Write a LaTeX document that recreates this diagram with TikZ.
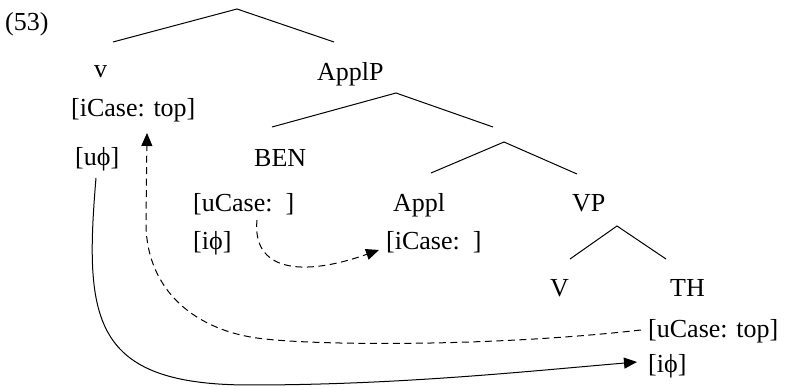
\documentclass[tikz,border=0pt]{standalone}
\usepackage{fontspec}
\setmainfont{Liberation Serif}
\usetikzlibrary{arrows.meta}
\begin{document}
\begin{tikzpicture}[x=1pt,y=-1pt,
  lbl/.style={anchor=base west,inner sep=0pt,font=\fontsize{26}{30}\selectfont},
  branch/.style={line width=1pt},
  agree/.style={line width=1pt,-{Triangle[length=13pt,width=11pt]}},
  agreedash/.style={agree,dash pattern=on 7pt off 4.5pt}]
\useasboundingbox (0,0) rectangle (785,387);
% texts
\node[lbl] (title) at (5,30.5) {(53)};
\node[lbl] (v) at (94,78) {v};
\node[lbl] (applp) at (317,80.5) {ApplP};
\node[lbl] (icasetop) at (71,117) {[iCase: top]};
\node[lbl] (uphi) at (75,165.5) {[uϕ]};
\node[lbl] (ben) at (254,167) {BEN};
\node[lbl] (ucase1) at (193,212) {[uCase:~~]};
\node[lbl] (iphi1) at (193,250) {[iϕ]};
\node[lbl] (appl) at (393,212) {Appl};
\node[lbl] (icase2) at (386,250) {[iCase:~~]};
\node[lbl] (vp) at (572,212) {VP};
\node[lbl] (V) at (550,297) {V};
\node[lbl] (th) at (670,297) {TH};
\node[lbl] (ucasetop) at (648,338) {[uCase: top]};
\node[lbl] (iphi2) at (648,373) {[iϕ]};
% tree skeleton
\coordinate (r) at (237,9);
\coordinate (rL) at (113,42);
\coordinate (rR) at (334,42);
\coordinate (a) at (396,93);
\coordinate (aL) at (272,127);
\coordinate (aR) at (493,127);
\coordinate (b) at (504,142);
\coordinate (bL) at (431,173);
\coordinate (bR) at (577,174);
\coordinate (c) at (617,226);
\coordinate (cL) at (570,259);
\coordinate (cR) at (666,259);
\draw[branch] (rL) -- (r) -- (rR);
\draw[branch] (aL) -- (a) -- (aR);
\draw[branch] (bL) -- (b) -- (bR);
\draw[branch] (cL) -- (c) -- (cR);
% agreement arrows
\coordinate (s1) at (96,178);
\coordinate (e1) at (637,362);
\coordinate (m1) at (250,385);
\draw[agree] (s1) .. controls (84,320) and (92,385) .. (m1)
  .. controls (400,385) and (530,371) .. (e1);
\coordinate (s2) at (641,330);
\coordinate (m2) at (265,339);
\coordinate (k2) at (146,225);
\coordinate (e2) at (147,133);
\draw[agreedash] (s2) .. controls (500,346) and (330,346) .. (m2)
  .. controls (195,332) and (147,290) .. (k2) -- (e2);
\coordinate (s3) at (257,220);
\coordinate (e3) at (379,250);
\draw[agreedash] (s3) .. controls (252,270) and (300,278) .. (e3);
\end{tikzpicture}
\end{document}
